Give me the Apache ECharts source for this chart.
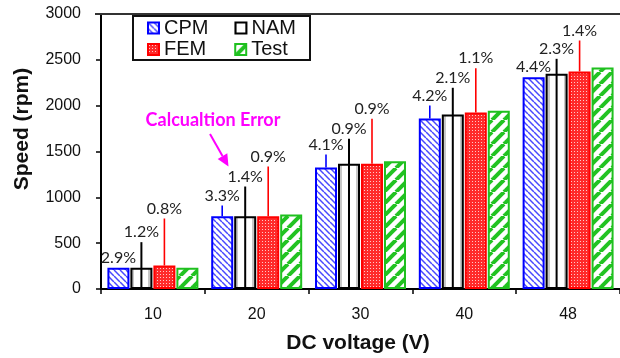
<!DOCTYPE html>
<html>
<head>
<meta charset="utf-8">
<script src="https://cdn.jsdelivr.net/npm/echarts@6/dist/echarts.min.js"></script>
<style>
  html, body { margin: 0; padding: 0; background: #fff; }
  #chart { width: 620px; height: 358px; }
</style>
</head>
<body>
<div id="chart"></div>
<script>
// Motor speed per DC supply voltage, four methods
const categories = ['10', '20', '30', '40', '48'];
const cpm  = [231, 794, 1326, 1860, 2311];
const nam  = [233, 794, 1366, 1904, 2348];
const fem  = [256, 794, 1366, 1926, 2373];
const test = [233, 813, 1394, 1944, 2417];

// Calculation error of each method against the test, and where its callout ends (rpm)
const cpmErr = ['2.9%', '3.3%', '4.1%', '4.2%', '4.4%'];
const namErr = ['1.2%', '1.4%', '0.9%', '2.1%', '2.3%'];
const femErr = ['0.8%', '0.9%', '0.9%', '1.1%', '1.4%'];
const cpmTip = [231, 911, 1467, 2002, 2311];
const namTip = [511, 1118, 1639, 2195, 2511];
const femTip = [769, 1336, 1857, 2409, 2711];

const yTicks = [0, 500, 1000, 1500, 2000, 2500, 3000];

function tile(w, h, draw) {
  const c = document.createElement('canvas');
  c.width = w; c.height = h;
  draw(c.getContext('2d'), w, h);
  return { image: c, repeat: 'repeat' };
}

const cpmFill = tile(6, 6, (g, w, h) => {
  g.fillStyle = '#fff'; g.fillRect(0, 0, w, h);
  g.strokeStyle = '#4848ff'; g.lineWidth = 1.5;
  for (const x0 of [-6, 0, 6]) { g.beginPath(); g.moveTo(x0, 0); g.lineTo(x0 + 6, 6); g.stroke(); }
});
const testFill = tile(12, 12, (g, w, h) => {
  g.fillStyle = '#fff'; g.fillRect(0, 0, w, h);
  g.strokeStyle = '#22c322'; g.lineWidth = 4;
  for (const x0 of [-12, 0, 12]) { g.beginPath(); g.moveTo(x0, 12); g.lineTo(x0 + 12, 0); g.stroke(); }
});
const femFill = tile(3, 3, (g, w, h) => {
  g.fillStyle = '#ff2b2b'; g.fillRect(0, 0, w, h);
  g.fillStyle = '#ffc8c8'; g.fillRect(1, 1, 1, 1);
});
const namFill = {
  type: 'linear', x: 0, y: 0, x2: 1, y2: 0,
  colorStops: [
    { offset: 0, color: '#c8c8c8' }, { offset: 0.18, color: '#c8c8c8' },
    { offset: 0.18, color: '#fff' }, { offset: 0.82, color: '#fff' },
    { offset: 0.82, color: '#c8c8c8' }, { offset: 1, color: '#c8c8c8' }
  ]
};

const lineColors = ['#0000ff', '#000000', '#ff0000'];
const barOffsets = [-34.5, -11.5, 11.5, 34.5];

// callout records: [category index, bar value, callout end, method index]
const callouts = [];
const calloutText = [];
[[cpm, cpmTip, cpmErr], [nam, namTip, namErr], [fem, femTip, femErr]].forEach((set, m) => {
  set[0].forEach((v, j) => {
    callouts.push([j, v, set[1][j], m]);
    calloutText.push(set[2][j]);
  });
});

const barBase = { type: 'bar', barWidth: 22, barGap: '4.5%', z: 2 };

const legendText = { fontFamily: 'Liberation Sans, Arial, sans-serif', fontSize: 20, color: '#111' };

const option = {
  animation: false,
  grid: { left: 101, right: 0, top: 14, bottom: 69 },
  legend: [
    { data: ['CPM', 'NAM'], left: 147, top: 18, padding: 0, itemGap: 26, itemWidth: 11, itemHeight: 11,
      icon: 'rect', textStyle: legendText, selectedMode: false },
    { data: ['FEM', 'Test'], left: 147, top: 39.5, padding: 0, itemGap: 28, itemWidth: 11, itemHeight: 11,
      icon: 'rect', textStyle: legendText, selectedMode: false }
  ],
  xAxis: {
    type: 'category',
    data: categories,
    axisLine: { lineStyle: { color: '#000', width: 2 } },
    axisTick: { show: true, length: 5, lineStyle: { color: '#000', width: 1.5 } },
    axisLabel: { margin: 18, fontFamily: 'Liberation Sans, Arial, sans-serif', fontSize: 16, color: '#111' }
  },
  yAxis: {
    type: 'value',
    min: 0, max: 3000, interval: 500,
    axisLine: { show: true, lineStyle: { color: '#000', width: 2 } },
    axisTick: { show: true, length: 5, lineStyle: { color: '#000', width: 1.5 } },
    splitLine: { show: false },
    axisLabel: { margin: 20, fontFamily: 'Liberation Sans, Arial, sans-serif', fontSize: 16, color: '#111',
      formatter: v => yTicks.includes(v) ? String(v) : '' }
  },
  graphic: [
    { type: 'line', shape: { x1: 95, y1: 14, x2: 620, y2: 14 }, style: { stroke: '#333', lineWidth: 2 }, z: 10 },
    { type: 'rect', shape: { x: 133, y: 16, width: 177, height: 44 }, style: { fill: 'rgba(0,0,0,0)', stroke: '#111', lineWidth: 2 }, z: 10 },
    { type: 'text', x: 22, y: 129, rotation: Math.PI / 2,
      style: { text: 'Speed (rpm)', font: 'bold 21px "Liberation Sans", Arial, sans-serif', fill: '#111',
        textAlign: 'center', textVerticalAlign: 'middle' } },
    { type: 'text', x: 358, y: 343,
      style: { text: 'DC voltage (V)', font: 'bold 21px "Liberation Sans", Arial, sans-serif', fill: '#111',
        textAlign: 'center', textVerticalAlign: 'middle' } },
    { type: 'text', x: 213, y: 120,
      style: { text: 'Calcualtion Error', font: 'bold 18px Lato, sans-serif', fill: '#ff00ff',
        textAlign: 'center', textVerticalAlign: 'middle' } },
    { type: 'polyline', shape: { points: [[210, 134], [222.5, 156]] }, style: { stroke: '#ff00ff', lineWidth: 2, fill: null } },
    { type: 'polygon', shape: { points: [[228.5, 166.5], [217.7, 158.9], [227.3, 153.3]] }, style: { fill: '#ff00ff' } }
  ],
  series: [
    Object.assign({ name: 'CPM', data: cpm, itemStyle: { color: cpmFill, borderColor: '#0000ff', borderWidth: 2 } }, barBase),
    Object.assign({ name: 'NAM', data: nam, itemStyle: { color: namFill, borderColor: '#000', borderWidth: 2 } }, barBase),
    Object.assign({ name: 'FEM', data: fem, itemStyle: { color: femFill, borderColor: '#ff0000', borderWidth: 2 } }, barBase),
    Object.assign({ name: 'Test', data: test, itemStyle: { color: testFill, borderColor: '#1fc01f', borderWidth: 2 } }, barBase),
    {
      type: 'custom',
      z: 5,
      data: callouts,
      encode: { x: 0, y: [1, 2] },
      renderItem: function (params, api) {
        const j = api.value(0), v = api.value(1), tip = api.value(2), m = api.value(3);
        const base = api.coord([j, v]);
        const top = api.coord([j, tip]);
        const zero = api.coord([j, 0]);
        const x = base[0] + barOffsets[m];
        const children = [];
        if (m === 1) {
          children.push({ type: 'rect', shape: { x: x - 1, y: top[1], width: 2, height: zero[1] - top[1] },
            style: { fill: '#000' } });
        } else if (tip > v) {
          children.push({ type: 'line', shape: { x1: x, y1: base[1], x2: x, y2: top[1] },
            style: { stroke: lineColors[m], lineWidth: 1.6 } });
        }
        children.push({ type: 'text', x: x, y: top[1] - 2,
          style: { text: calloutText[params.dataIndex], font: '16px Lato, sans-serif', fill: '#222',
            textAlign: 'center', textVerticalAlign: 'bottom' } });
        return { type: 'group', children: children };
      }
    }
  ]
};

const chart = echarts.init(document.getElementById('chart'), null, { renderer: 'canvas' });
chart.setOption(option);
</script>
</body>
</html>
